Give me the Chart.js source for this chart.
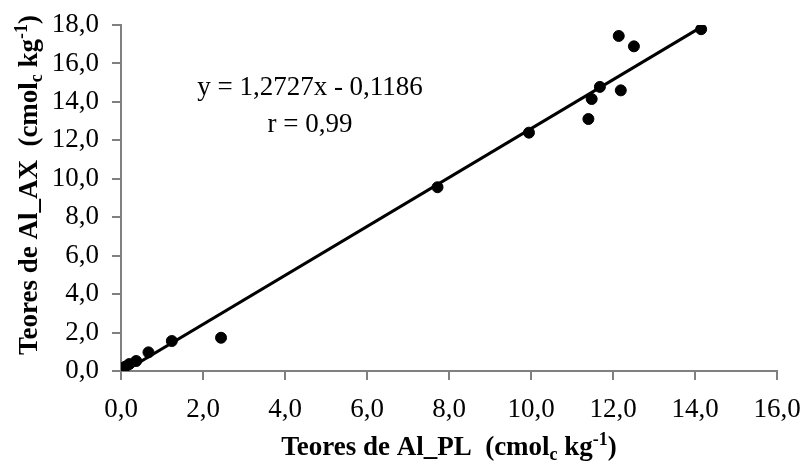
<!DOCTYPE html>
<html>
<head>
<meta charset="utf-8">
<script src="https://cdn.jsdelivr.net/npm/chart.js@4/dist/chart.umd.min.js"></script>
<style>
    body { margin: 0; background: #fff; }
    #wrap { width: 802px; height: 463px; position: relative; }
</style>
</head>
<body>
<div id="wrap"><canvas id="myChart"></canvas></div>
<script>
// Al_PL (x) vs Al_AX (y), cmolc/kg
const alPL = [0.00, 0.10, 0.20, 0.37, 0.67, 1.24, 2.44, 7.72, 9.95, 11.40, 11.48, 11.68, 12.19, 12.14, 12.51, 14.15];
const alAX = [0.14, 0.22, 0.36, 0.52, 0.97, 1.56, 1.73, 9.56, 12.40, 13.11, 14.15, 14.78, 14.60, 17.43, 16.89, 17.78];

const slope = 1.2727;
const intercept = -0.1186;
const rValue = 0.99;

const xTicks = [0, 2, 4, 6, 8, 10, 12, 14, 16];
const yTicks = [0, 2, 4, 6, 8, 10, 12, 14, 16, 18];

const FONT = "'Liberation Serif', 'Times New Roman', serif";
const FONT_SIZE = 27;
const AXIS_GREY = '#808080';

function fmt(v, d) {
    return v.toFixed(d).replace('.', ',');
}

const points = alPL.map((x, i) => ({ x: x, y: alAX[i] }));
const xMin = Math.min(...alPL);
const xMax = Math.max(...alPL);
const trend = [xMin, xMax].map(x => ({ x: x, y: slope * x + intercept }));

// draws a run of text pieces (with sub/superscripts), centred on cx
function drawRich(ctx, parts, cx, baseY, size, bold) {
    const w = bold ? 'bold ' : '';
    const small = Math.round(size * 0.65);
    let total = 0;
    parts.forEach(p => {
        ctx.font = w + (p.sub || p.sup ? small : size) + 'px ' + FONT;
        p.w = ctx.measureText(p.t).width;
        total += p.w;
    });
    let x = cx - total / 2;
    ctx.textAlign = 'left';
    ctx.textBaseline = 'alphabetic';
    parts.forEach(p => {
        ctx.font = w + (p.sub || p.sup ? small : size) + 'px ' + FONT;
        let dy = 0;
        if (p.sub) dy = size * 0.2;
        if (p.sup) dy = -size * 0.38;
        ctx.fillText(p.t, x, baseY + dy);
        x += p.w;
    });
}

function unitParts(label) {
    return [
        { t: 'Teores de ' + label + '  (cmol' },
        { t: 'c', sub: true },
        { t: ' kg' },
        { t: '-1', sup: true },
        { t: ')' }
    ];
}

// keep the scales from reserving room for overhanging tick labels
function noOverhang(s) {
    s.paddingLeft = 0;
    s.paddingRight = 0;
    s.paddingTop = 0;
    s.paddingBottom = 0;
}

const labelsPlugin = {
    id: 'labelsPlugin',
    afterDraw(chart) {
        const ctx = chart.ctx;
        const area = chart.chartArea;
        const sx = chart.scales.x;
        const sy = chart.scales.y;
        ctx.save();
        ctx.fillStyle = '#000';

        // axis titles
        drawRich(ctx, unitParts('Al_PL'), (area.left + area.right) / 2, 455, FONT_SIZE, true);
        ctx.save();
        ctx.translate(37, 185);
        ctx.rotate(-Math.PI / 2);
        drawRich(ctx, unitParts('Al_AX'), 0, 0, FONT_SIZE, true);
        ctx.restore();

        // regression equation
        ctx.font = FONT_SIZE + 'px ' + FONT;
        ctx.textAlign = 'center';
        ctx.textBaseline = 'middle';
        const eq = 'y = ' + fmt(slope, 4) + 'x - ' + fmt(Math.abs(intercept), 4);
        ctx.fillText(eq, sx.getPixelForValue(4.61), sy.getPixelForValue(14.75));
        ctx.fillText('r = ' + fmt(rValue, 2), sx.getPixelForValue(4.61), sy.getPixelForValue(12.8));
        ctx.restore();
    }
};

const ctx = document.getElementById('myChart').getContext('2d');
const chartInstance = new Chart(ctx, {
    type: 'scatter',
    data: {
        datasets: [
            {
                label: 'Teores',
                data: points,
                backgroundColor: '#000',
                borderColor: '#000',
                pointRadius: 5.5,
                pointHoverRadius: 5.5,
                order: 1
            },
            {
                type: 'line',
                label: 'Ajuste',
                data: trend,
                borderColor: '#000',
                borderWidth: 3,
                pointRadius: 0,
                fill: false,
                order: 2
            }
        ]
    },
    options: {
        responsive: true,
        maintainAspectRatio: false,
        animation: false,
        layout: {
            autoPadding: false,
            padding: { top: 25, right: 25, left: 0, bottom: 0 }
        },
        plugins: {
            legend: { display: false },
            tooltip: { enabled: false }
        },
        scales: {
            x: {
                type: 'linear',
                min: 0,
                max: 16,
                afterBuildTicks: s => { s.ticks = xTicks.map(v => ({ value: v })); },
                afterFit: s => { s.height = 92; noOverhang(s); },
                ticks: {
                    callback: v => fmt(v, 1),
                    color: '#000',
                    font: { family: FONT, size: FONT_SIZE },
                    padding: 14,
                    maxRotation: 0
                },
                grid: {
                    drawOnChartArea: false,
                    drawTicks: true,
                    tickLength: 9,
                    color: AXIS_GREY,
                    lineWidth: 2
                },
                border: { color: AXIS_GREY, width: 2 }
            },
            y: {
                type: 'linear',
                min: 0,
                max: 18,
                afterBuildTicks: s => { s.ticks = yTicks.map(v => ({ value: v })); },
                afterFit: s => { s.width = 121; noOverhang(s); },
                ticks: {
                    callback: v => fmt(v, 1),
                    color: '#000',
                    font: { family: FONT, size: FONT_SIZE },
                    padding: 13
                },
                grid: {
                    drawOnChartArea: false,
                    drawTicks: true,
                    tickLength: 9,
                    color: AXIS_GREY,
                    lineWidth: 2
                },
                border: { color: AXIS_GREY, width: 2 }
            }
        }
    },
    plugins: [labelsPlugin]
});
</script>
</body>
</html>
